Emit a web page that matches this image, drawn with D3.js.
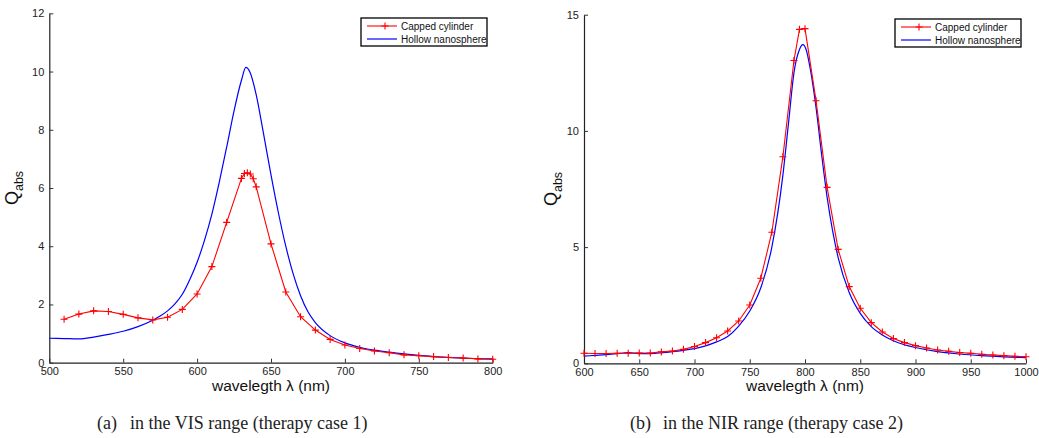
<!DOCTYPE html>
<html>
<head>
<meta charset="utf-8">
<script src="https://cdn.jsdelivr.net/npm/d3@7"></script>
<style>
  body { margin: 0; background: #fff; }
  svg { display: block; }
</style>
</head>
<body>
<svg id="chart" width="1039" height="438"></svg>
<script>
// ---------- data: (a) VIS range ----------
const visCappedX = [510,520,530,540,550,560,570,580,590,600,610,620,630,632,634,636,638,640,650,660,670,680,690,700,710,720,730,740,750,760,770,780,790,800];
const visCappedY = [1.49,1.67,1.78,1.76,1.66,1.54,1.47,1.56,1.83,2.36,3.30,4.82,6.33,6.50,6.52,6.48,6.32,6.04,4.08,2.43,1.58,1.12,0.80,0.61,0.49,0.40,0.34,0.27,0.24,0.21,0.18,0.16,0.13,0.12];
const visHollowX = [500,510,520,530,540,550,560,570,575,580,585,590,595,600,605,610,615,620,625,630,633,636,640,645,650,655,660,665,670,675,680,690,700,710,720,730,740,750,760,770,780,790,800];
const visHollowY = [0.84,0.83,0.82,0.88,0.97,1.08,1.24,1.46,1.60,1.78,2.02,2.35,2.85,3.45,4.20,5.10,6.20,7.40,8.65,9.70,10.14,9.95,9.20,7.85,6.45,5.15,4.00,3.05,2.30,1.75,1.38,0.93,0.68,0.53,0.43,0.36,0.30,0.25,0.21,0.18,0.16,0.14,0.13];
const visXTicks = [500,550,600,650,700,750,800];
const visYTicks = [0,2,4,6,8,10,12];

// ---------- data: (b) NIR range ----------
const nirCappedX = [600,610,620,630,640,650,660,670,680,690,700,710,720,730,740,750,760,770,780,790,795,800,810,820,830,840,850,860,870,880,890,900,910,920,930,940,950,960,970,980,990,1000];
const nirCappedY = [0.43,0.42,0.42,0.43,0.43,0.44,0.44,0.49,0.53,0.60,0.72,0.89,1.10,1.39,1.82,2.51,3.66,5.64,8.89,13.03,14.37,14.40,11.30,7.57,4.90,3.30,2.37,1.75,1.35,1.07,0.89,0.76,0.66,0.57,0.52,0.46,0.43,0.39,0.36,0.33,0.30,0.28];
const nirHollowX = [600,610,620,630,640,650,660,670,680,690,700,710,720,730,740,750,760,770,780,785,790,795,798,801,805,810,815,820,825,830,840,850,860,870,880,890,900,920,940,960,980,1000];
const nirHollowY = [0.31,0.34,0.37,0.41,0.46,0.42,0.42,0.45,0.50,0.56,0.63,0.75,0.92,1.15,1.60,2.25,3.25,5.00,8.10,10.30,12.50,13.50,13.71,13.50,12.60,11.00,9.00,7.15,5.70,4.55,3.05,2.15,1.58,1.22,0.97,0.80,0.68,0.50,0.40,0.33,0.28,0.24];
const nirXTicks = [600,650,700,750,800,850,900,950,1000];
const nirYTicks = [0,5,10,15];

const seriesNames = ["Capped cylinder", "Hollow nanosphere"];
const xLabel = "wavelegth λ (nm)";
const captions = [["(a)", "in the VIS range (therapy case 1)"], ["(b)", "in the NIR range (therapy case 2)"]];

const SANS = "'Liberation Sans', Arial, sans-serif";
const SERIF = "'Liberation Serif', 'Times New Roman', serif";

const svg = d3.select("#chart");
svg.append("rect").attr("width", 1039).attr("height", 438).attr("fill", "#fff");

function panel(cfg) {
  const x = d3.scaleLinear().domain(cfg.xDomain).range([cfg.left, cfg.right]);
  const y = d3.scaleLinear().domain(cfg.yDomain).range([cfg.bottom, cfg.top]);
  const g = svg.append("g");

  // axes (ticks inward)
  const xAxis = d3.axisBottom(x).tickValues(cfg.xTicks).tickFormat(d3.format("d"))
    .tickSizeInner(-4).tickSizeOuter(0).tickPadding(5);
  const gx = g.append("g").attr("transform", `translate(0,${cfg.bottom})`).call(xAxis);
  const yAxis = d3.axisLeft(y).tickValues(cfg.yTicks).tickFormat(d3.format("d"))
    .tickSizeInner(-4).tickSizeOuter(0).tickPadding(5);
  const gy = g.append("g").attr("transform", `translate(${cfg.left},0)`).call(yAxis);
  [gx, gy].forEach(a => {
    a.selectAll("path.domain").attr("stroke", "#222").attr("stroke-width", 1.2);
    a.selectAll(".tick line").attr("stroke", "#333");
    a.selectAll(".tick text").style("font-size", "11px").style("font-family", SANS).attr("fill", "#222");
  });

  // hollow (blue)
  const blue = cfg.hx.map((v, i) => [v, cfg.hy[i]]);
  g.append("path").datum(blue)
    .attr("fill", "none").attr("stroke", "#0000ff").attr("stroke-width", 1.2)
    .attr("d", d3.line().x(d => x(d[0])).y(d => y(d[1])).curve(d3.curveMonotoneX));

  // capped (red)
  const red = cfg.cx.map((v, i) => [v, cfg.cy[i]]);
  g.append("path").datum(red)
    .attr("fill", "none").attr("stroke", "#ff0000").attr("stroke-width", 1.1)
    .attr("d", d3.line().x(d => x(d[0])).y(d => y(d[1])));
  g.selectAll(".mk").data(red).join("path")
    .attr("transform", d => `translate(${x(d[0])},${y(d[1])})`)
    .attr("d", "M-3.5,0H3.5M0,-3.5V3.5")
    .attr("stroke", "#ff0000").attr("stroke-width", 1.1).attr("fill", "none");

  // x label
  g.append("text").attr("x", (cfg.left + cfg.right) / 2).attr("y", 391)
    .attr("text-anchor", "middle").style("font-family", SANS).style("font-size", "15.5px")
    .attr("fill", "#111").text(xLabel);

  // y label Q_abs
  const yl = g.append("text")
    .attr("transform", `translate(${cfg.ylx},${(cfg.top + cfg.bottom) / 2}) rotate(-90)`)
    .attr("text-anchor", "middle").attr("fill", "#111").style("font-family", SANS);
  yl.append("tspan").style("font-size", "18px").text("Q");
  yl.append("tspan").style("font-size", "12.5px").attr("dy", 5).text("abs");

  // legend
  const L = cfg.legend;
  const lg = g.append("g");
  lg.append("rect").attr("x", L.x).attr("y", L.y).attr("width", L.w).attr("height", L.h)
    .attr("fill", "#fff").attr("stroke", "#000").attr("stroke-width", 1.3);
  const rows = [L.y + 8, L.y + 21];
  lg.append("line").attr("x1", L.x + 6).attr("x2", L.x + 36).attr("y1", rows[0]).attr("y2", rows[0])
    .attr("stroke", "#ff0000").attr("stroke-width", 1.1);
  lg.append("path").attr("transform", `translate(${L.x + 24},${rows[0]})`).attr("d", "M-3.5,0H3.5M0,-3.5V3.5")
    .attr("stroke", "#ff0000").attr("stroke-width", 1.1);
  lg.append("line").attr("x1", L.x + 6).attr("x2", L.x + 36).attr("y1", rows[1]).attr("y2", rows[1])
    .attr("stroke", "#0000ff").attr("stroke-width", 1.2);
  seriesNames.forEach((n, i) => {
    lg.append("text").attr("x", L.x + 40).attr("y", rows[i]).attr("dy", "0.35em")
      .style("font-family", SANS).style("font-size", "10px").attr("fill", "#111").text(n);
  });

  // caption
  const cap = g.append("text").attr("y", 429).style("font-family", SERIF)
    .style("font-size", "18px").attr("fill", "#222");
  cap.append("tspan").attr("x", cfg.capX).text(cfg.caption[0]);
  cap.append("tspan").attr("x", cfg.capX + 33).text(cfg.caption[1]);
}

panel({
  id: "a", xDomain: [500, 800], yDomain: [0, 12],
  left: 49.3, right: 492.7, top: 13.3, bottom: 362.7,
  xTicks: visXTicks, yTicks: visYTicks,
  cx: visCappedX, cy: visCappedY, hx: visHollowX, hy: visHollowY,
  ylx: 18, legend: { x: 361, y: 18, w: 126, h: 28 },
  caption: captions[0], capX: 97
});
panel({
  id: "b", xDomain: [600, 1000], yDomain: [0, 15],
  left: 584, right: 1026, top: 14.7, bottom: 363.3,
  xTicks: nirXTicks, yTicks: nirYTicks,
  cx: nirCappedX, cy: nirCappedY, hx: nirHollowX, hy: nirHollowY,
  ylx: 557, legend: { x: 895, y: 19, w: 126, h: 28 },
  caption: captions[1], capX: 630
});
</script>
</body>
</html>
